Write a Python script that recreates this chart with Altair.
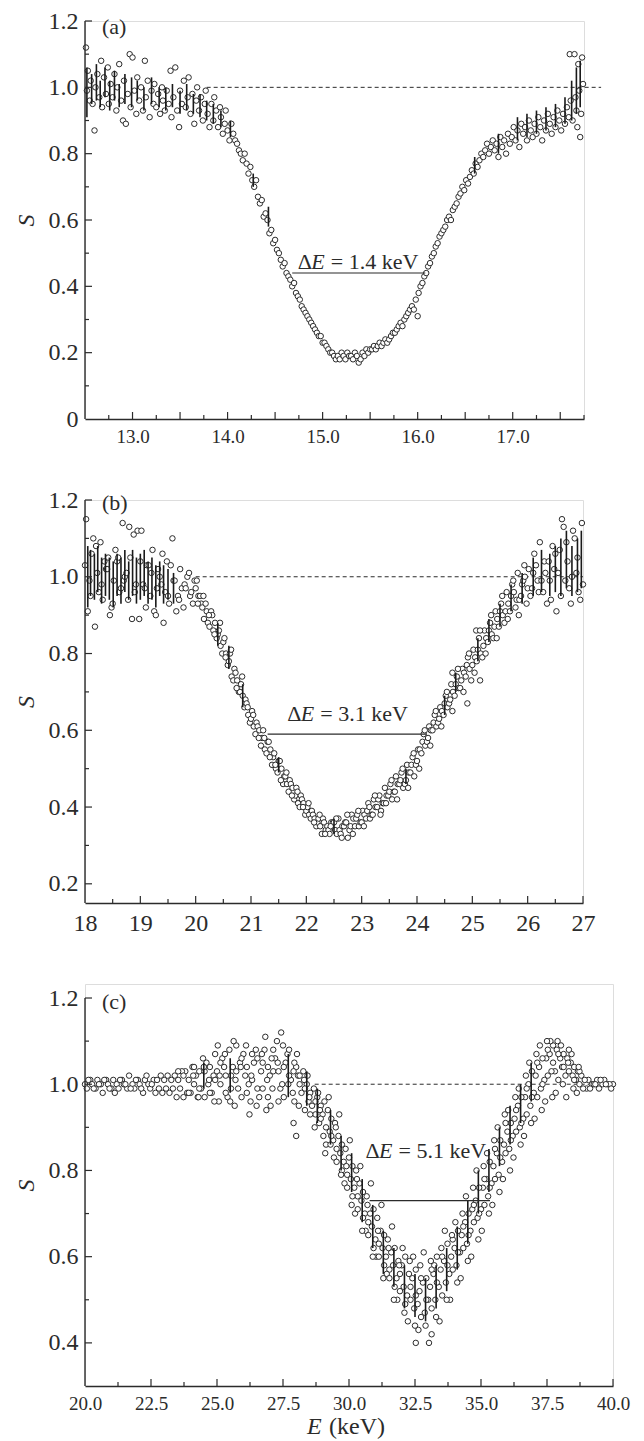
import altair as alt
import pandas as pd

FONT = "Liberation Serif, Times New Roman, Times, DejaVu Serif, serif"
INK = "#2b2b2b"
NB = "\u00a0"

# ---------------- panel (a) : (E keV, S) ----------------
a_pts = [
    (12.51, 1.12), (12.52, 0.99), (12.53, 1.05), (12.55, 0.96), (12.56, 1.02), (12.58, 0.95), (12.60, 0.87),
    (12.61, 1.00), (12.63, 1.04), (12.65, 0.97), (12.67, 1.08), (12.68, 0.94), (12.70, 1.03), (12.72, 0.98),
    (12.74, 1.06), (12.75, 0.95), (12.77, 1.01), (12.79, 0.97), (12.81, 1.04), (12.83, 0.93), (12.84, 1.00),
    (12.86, 1.07), (12.88, 0.96), (12.90, 0.90), (12.91, 1.02), (12.93, 0.89), (12.95, 0.98), (12.97, 1.10),
    (12.98, 0.94), (13.00, 1.09), (13.02, 0.99), (13.04, 0.92), (13.05, 1.03), (13.07, 0.96), (13.09, 1.00),
    (13.11, 0.93), (13.13, 1.08), (13.14, 0.97), (13.16, 1.02), (13.18, 0.91), (13.20, 0.99), (13.22, 0.95),
    (13.23, 1.01), (13.25, 0.94), (13.27, 0.98), (13.29, 0.92), (13.31, 1.00), (13.32, 0.96), (13.34, 0.93),
    (13.36, 0.99), (13.38, 0.95), (13.40, 1.05), (13.41, 0.91), (13.43, 0.97), (13.45, 1.06), (13.47, 0.93),
    (13.49, 0.88), (13.50, 0.99), (13.52, 0.95), (13.54, 1.02), (13.56, 0.94), (13.58, 0.97), (13.59, 1.03),
    (13.61, 0.92), (13.63, 0.98), (13.65, 0.89), (13.67, 0.96), (13.68, 1.00), (13.70, 0.93), (13.72, 0.97),
    (13.74, 0.90), (13.76, 0.95), (13.77, 0.99), (13.79, 0.92), (13.81, 0.88), (13.83, 0.95), (13.85, 0.90),
    (13.86, 0.97), (13.88, 0.93), (13.90, 0.88), (13.92, 0.94), (13.93, 0.91), (13.95, 0.86), (13.97, 0.89),
    (13.98, 0.93), (14.00, 0.87), (14.02, 0.84), (14.04, 0.89), (14.06, 0.86), (14.08, 0.84), (14.10, 0.83),
    (14.12, 0.81), (14.14, 0.80), (14.16, 0.78), (14.18, 0.80), (14.20, 0.77), (14.22, 0.74), (14.24, 0.76),
    (14.26, 0.72), (14.28, 0.70), (14.30, 0.72), (14.32, 0.67), (14.34, 0.65), (14.36, 0.66), (14.38, 0.61),
    (14.40, 0.62), (14.42, 0.60), (14.44, 0.56), (14.46, 0.57), (14.48, 0.53), (14.50, 0.54), (14.52, 0.51),
    (14.54, 0.50), (14.56, 0.48), (14.58, 0.46), (14.60, 0.47), (14.62, 0.44), (14.64, 0.43), (14.66, 0.42),
    (14.68, 0.40), (14.70, 0.41), (14.72, 0.38), (14.74, 0.37), (14.76, 0.36), (14.78, 0.34), (14.80, 0.33),
    (14.82, 0.32), (14.84, 0.31), (14.86, 0.30), (14.88, 0.29), (14.90, 0.28), (14.92, 0.27), (14.94, 0.26),
    (14.96, 0.25), (14.98, 0.25), (15.00, 0.23), (15.02, 0.23), (15.04, 0.22), (15.06, 0.21), (15.08, 0.20),
    (15.10, 0.20), (15.12, 0.19), (15.14, 0.18), (15.16, 0.19), (15.18, 0.18), (15.20, 0.20), (15.22, 0.19),
    (15.24, 0.18), (15.26, 0.20), (15.28, 0.19), (15.30, 0.19), (15.32, 0.18), (15.34, 0.20), (15.36, 0.19),
    (15.38, 0.17), (15.40, 0.18), (15.42, 0.20), (15.44, 0.19), (15.46, 0.21), (15.48, 0.20), (15.50, 0.21),
    (15.52, 0.21), (15.54, 0.22), (15.56, 0.21), (15.58, 0.22), (15.60, 0.23), (15.62, 0.22), (15.64, 0.23),
    (15.66, 0.24), (15.68, 0.23), (15.70, 0.24), (15.72, 0.25), (15.74, 0.26), (15.76, 0.26), (15.78, 0.27),
    (15.80, 0.28), (15.82, 0.29), (15.84, 0.28), (15.86, 0.30), (15.88, 0.31), (15.90, 0.32), (15.92, 0.33),
    (15.94, 0.34), (15.96, 0.33), (15.98, 0.36), (16.00, 0.31), (16.01, 0.38), (16.03, 0.40), (16.05, 0.41),
    (16.07, 0.43), (16.09, 0.44), (16.11, 0.46), (16.13, 0.47), (16.15, 0.49), (16.17, 0.50), (16.19, 0.52),
    (16.21, 0.53), (16.23, 0.55), (16.25, 0.56), (16.27, 0.57), (16.29, 0.58), (16.31, 0.60), (16.33, 0.61),
    (16.35, 0.60), (16.37, 0.63), (16.39, 0.64), (16.41, 0.65), (16.43, 0.67), (16.45, 0.68), (16.47, 0.70),
    (16.49, 0.69), (16.51, 0.72), (16.53, 0.71), (16.55, 0.73), (16.57, 0.75), (16.59, 0.74), (16.61, 0.77),
    (16.63, 0.76), (16.65, 0.78), (16.67, 0.80), (16.69, 0.79), (16.71, 0.81), (16.73, 0.83), (16.75, 0.80),
    (16.77, 0.82), (16.79, 0.84), (16.81, 0.81), (16.83, 0.83), (16.85, 0.79), (16.87, 0.85), (16.89, 0.82),
    (16.91, 0.84), (16.93, 0.80), (16.95, 0.86), (16.97, 0.83), (16.99, 0.85), (17.01, 0.88), (17.03, 0.84),
    (17.05, 0.87), (17.07, 0.82), (17.09, 0.89), (17.11, 0.86), (17.13, 0.88), (17.15, 0.84), (17.17, 0.90),
    (17.19, 0.87), (17.21, 0.85), (17.23, 0.89), (17.25, 0.86), (17.27, 0.91), (17.29, 0.88), (17.31, 0.84),
    (17.33, 0.90), (17.35, 0.87), (17.37, 0.92), (17.39, 0.89), (17.41, 0.86), (17.43, 0.91), (17.45, 0.88),
    (17.47, 0.93), (17.49, 0.90), (17.51, 0.87), (17.53, 0.92), (17.55, 0.89), (17.57, 0.94), (17.59, 0.91),
    (17.60, 1.10), (17.61, 0.96), (17.63, 0.90), (17.65, 1.10), (17.66, 0.97), (17.67, 0.93), (17.68, 0.88),
    (17.69, 1.07), (17.70, 0.99), (17.71, 0.85), (17.72, 0.92), (17.73, 1.09), (17.74, 1.01),
]
a_err_x = [12.52, 12.57, 12.62, 12.66, 12.71, 12.76, 12.81, 12.86, 12.92, 12.99, 13.05, 13.12, 13.20,
           13.28, 13.35, 13.42, 13.50, 13.57, 13.64, 13.71, 13.78, 13.85, 13.93, 14.03, 14.27, 14.43,
           16.60, 16.85, 17.05, 17.15, 17.25, 17.35, 17.45, 17.55, 17.62, 17.67, 17.71]
a_err_lo = [0.91, 0.95, 0.96, 0.94, 0.97, 0.93, 0.96, 0.94, 0.95, 0.94, 0.96, 0.93, 0.95, 0.94, 0.93,
            0.94, 0.92, 0.93, 0.92, 0.91, 0.90, 0.89, 0.88, 0.85, 0.70, 0.58, 0.74, 0.80, 0.84, 0.85,
            0.86, 0.87, 0.88, 0.89, 0.90, 0.92, 0.94]
a_err_hi = [1.06, 1.04, 1.07, 1.02, 1.06, 1.02, 1.05, 1.01, 1.04, 1.03, 1.02, 1.00, 1.03, 1.00, 1.00,
            1.01, 0.99, 1.01, 0.98, 0.98, 0.96, 0.95, 0.93, 0.90, 0.74, 0.64, 0.79, 0.86, 0.91, 0.92,
            0.93, 0.94, 0.95, 0.97, 1.02, 1.06, 1.08]

# ---------------- panel (b) ----------------
b_left = [
    (18.00, 1.03), (18.02, 1.15), (18.05, 0.91), (18.08, 0.99), (18.10, 0.95), (18.12, 1.06), (18.15, 1.10),
    (18.18, 0.87), (18.20, 1.08), (18.22, 1.01), (18.25, 0.96), (18.28, 1.09), (18.30, 0.98), (18.32, 0.94),
    (18.35, 1.04), (18.38, 1.02), (18.40, 1.02), (18.42, 1.05), (18.45, 0.90), (18.48, 0.92), (18.50, 0.93),
    (18.52, 0.99), (18.55, 1.07), (18.58, 1.04), (18.60, 1.05), (18.62, 0.96), (18.65, 0.97), (18.68, 1.14),
    (18.70, 0.99), (18.72, 1.00), (18.75, 1.01), (18.78, 0.94), (18.80, 1.13), (18.82, 1.05), (18.85, 0.89),
    (18.88, 1.11), (18.90, 0.96), (18.92, 0.98), (18.95, 1.12), (18.98, 0.89), (19.00, 1.04), (19.02, 1.12),
    (19.05, 0.98), (19.08, 0.97), (19.10, 0.92), (19.12, 1.03), (19.15, 1.03), (19.18, 0.95), (19.20, 1.01),
    (19.22, 1.07), (19.25, 0.91), (19.28, 0.90), (19.30, 0.97), (19.32, 1.02), (19.35, 1.00), (19.38, 0.98),
    (19.40, 1.06), (19.42, 0.88), (19.45, 0.96), (19.48, 1.04), (19.50, 0.95), (19.52, 0.93), (19.55, 1.03),
    (19.58, 1.10), (19.60, 0.99), (19.62, 0.99), (19.65, 0.91), (19.68, 0.95), (19.70, 0.94), (19.72, 1.02),
    (19.75, 0.97), (19.78, 0.92), (19.80, 0.98), (19.82, 0.97), (19.85, 1.00), (19.88, 1.01), (19.90, 0.95),
    (19.92, 0.96), (19.95, 0.93), (19.98, 0.99),
]
b_dip = [
    (20.00, 0.97), (20.02, 0.99), (20.05, 0.95), (20.08, 0.95), (20.10, 0.93), (20.12, 0.92), (20.15, 0.89),
    (20.18, 0.93), (20.20, 0.91), (20.22, 0.88), (20.25, 0.87), (20.28, 0.91), (20.30, 0.90), (20.32, 0.86),
    (20.35, 0.88), (20.38, 0.84), (20.40, 0.85), (20.42, 0.86), (20.45, 0.82), (20.48, 0.80), (20.50, 0.83),
    (20.52, 0.84), (20.55, 0.80), (20.58, 0.77), (20.60, 0.78), (20.62, 0.80), (20.65, 0.74), (20.68, 0.73),
    (20.70, 0.76), (20.72, 0.75), (20.75, 0.73), (20.78, 0.70), (20.80, 0.70), (20.82, 0.72), (20.85, 0.69),
    (20.88, 0.66), (20.90, 0.68), (20.92, 0.67), (20.95, 0.64), (20.98, 0.62), (21.00, 0.63), (21.02, 0.65),
    (21.05, 0.61), (21.08, 0.59), (21.10, 0.62), (21.12, 0.61), (21.15, 0.60), (21.18, 0.56), (21.20, 0.58),
    (21.22, 0.60), (21.25, 0.55), (21.28, 0.54), (21.30, 0.57), (21.32, 0.57), (21.35, 0.55), (21.38, 0.51),
    (21.40, 0.53), (21.42, 0.54), (21.45, 0.50), (21.48, 0.49), (21.50, 0.52), (21.52, 0.52), (21.55, 0.50),
    (21.58, 0.46), (21.60, 0.48), (21.62, 0.48), (21.65, 0.46), (21.68, 0.44), (21.70, 0.47), (21.72, 0.46),
    (21.75, 0.45), (21.78, 0.42), (21.80, 0.43), (21.82, 0.45), (21.85, 0.41), (21.88, 0.40), (21.90, 0.43),
    (21.92, 0.42), (21.95, 0.41), (21.98, 0.38), (22.00, 0.39), (22.02, 0.40), (22.05, 0.38), (22.08, 0.37),
    (22.10, 0.39), (22.12, 0.38), (22.15, 0.37), (22.18, 0.35), (22.20, 0.36), (22.22, 0.37), (22.25, 0.35),
    (22.28, 0.33), (22.30, 0.37), (22.32, 0.36), (22.35, 0.34), (22.38, 0.35), (22.40, 0.34), (22.42, 0.33),
    (22.45, 0.36), (22.48, 0.36), (22.50, 0.36), (22.52, 0.34), (22.55, 0.33), (22.58, 0.37), (22.60, 0.34),
    (22.62, 0.33), (22.65, 0.35), (22.68, 0.35), (22.70, 0.36), (22.72, 0.36), (22.75, 0.32), (22.78, 0.34),
    (22.80, 0.35), (22.82, 0.38), (22.85, 0.37), (22.88, 0.35), (22.90, 0.37), (22.92, 0.38), (22.95, 0.35),
    (22.98, 0.36), (23.00, 0.36), (23.02, 0.39), (23.05, 0.38), (23.08, 0.37), (23.10, 0.39), (23.12, 0.41),
    (23.15, 0.37), (23.18, 0.38), (23.20, 0.38), (23.22, 0.42), (23.25, 0.40), (23.28, 0.40), (23.30, 0.42),
    (23.32, 0.43), (23.35, 0.39), (23.38, 0.41), (23.40, 0.41), (23.42, 0.45), (23.45, 0.43), (23.48, 0.43),
    (23.50, 0.44), (23.52, 0.46), (23.55, 0.42), (23.58, 0.44), (23.60, 0.44), (23.62, 0.48), (23.65, 0.46),
    (23.68, 0.46), (23.70, 0.47), (23.72, 0.49), (23.75, 0.45), (23.78, 0.46), (23.80, 0.47), (23.82, 0.51),
    (23.85, 0.49), (23.88, 0.49), (23.90, 0.51), (23.92, 0.53), (23.95, 0.48), (23.98, 0.51), (24.00, 0.52),
    (24.02, 0.55), (24.05, 0.55), (24.08, 0.54), (24.10, 0.57), (24.12, 0.59), (24.15, 0.56), (24.18, 0.57),
    (24.20, 0.58), (24.22, 0.61), (24.25, 0.60), (24.28, 0.60), (24.30, 0.62), (24.32, 0.64), (24.35, 0.61),
    (24.38, 0.62), (24.40, 0.63), (24.42, 0.66), (24.45, 0.65), (24.48, 0.64), (24.50, 0.67), (24.52, 0.69),
    (24.55, 0.66), (24.58, 0.67), (24.60, 0.68), (24.62, 0.72), (24.64, 0.75), (24.65, 0.70), (24.68, 0.69),
    (24.70, 0.72), (24.72, 0.74), (24.75, 0.71), (24.78, 0.71), (24.80, 0.73), (24.82, 0.76), (24.85, 0.75),
    (24.88, 0.74), (24.90, 0.77), (24.91, 0.67), (24.92, 0.79), (24.95, 0.76), (24.98, 0.73), (25.00, 0.77),
    (25.02, 0.81), (25.05, 0.79), (25.07, 0.86), (25.08, 0.78), (25.10, 0.81), (25.12, 0.84), (25.14, 0.73),
    (25.15, 0.80), (25.18, 0.79), (25.20, 0.82), (25.22, 0.86), (25.25, 0.84), (25.28, 0.83), (25.30, 0.86),
    (25.32, 0.88), (25.35, 0.85), (25.38, 0.84), (25.40, 0.87), (25.42, 0.91), (25.45, 0.89), (25.48, 0.87),
    (25.50, 0.91), (25.52, 0.93), (25.55, 0.90), (25.58, 0.88), (25.60, 0.91), (25.62, 0.96), (25.65, 0.93),
    (25.68, 0.91), (25.70, 0.95), (25.72, 0.98), (25.75, 0.96), (25.78, 0.92), (25.80, 0.94), (25.82, 1.01),
    (25.85, 0.94), (25.88, 0.95), (25.90, 0.98), (25.92, 0.99), (25.95, 1.00), (25.98, 0.93),
]
b_extra = [
    (20.04, 0.93), (20.14, 0.95), (20.24, 0.90), (20.34, 0.85), (20.44, 0.88), (20.54, 0.79), (20.64, 0.81),
    (20.74, 0.71), (20.84, 0.74), (20.94, 0.66), (21.04, 0.64), (21.14, 0.58), (21.24, 0.58), (21.34, 0.53),
    (21.44, 0.51), (21.54, 0.47), (21.64, 0.49), (21.74, 0.43), (21.84, 0.44), (21.94, 0.40), (22.04, 0.41),
    (22.14, 0.36), (22.24, 0.38), (22.34, 0.33), (22.44, 0.35), (22.54, 0.37), (22.64, 0.32), (22.74, 0.38),
    (22.84, 0.33), (22.94, 0.39), (23.04, 0.35), (23.14, 0.40), (23.24, 0.43), (23.34, 0.38), (23.44, 0.41),
    (23.54, 0.47), (23.64, 0.42), (23.74, 0.50), (23.84, 0.45), (23.94, 0.54), (24.04, 0.50), (24.14, 0.60),
    (24.24, 0.56), (24.34, 0.65), (24.44, 0.61), (24.54, 0.70), (24.64, 0.65), (24.74, 0.76), (24.84, 0.70),
    (24.94, 0.80), (25.04, 0.75), (25.14, 0.86), (25.24, 0.80), (25.34, 0.90), (25.44, 0.84), (25.54, 0.95),
    (25.64, 0.89), (25.74, 0.99), (25.84, 0.90), (25.94, 1.03),
]
b_right = [
    (26.00, 0.97), (26.02, 1.02), (26.05, 0.95), (26.08, 0.97), (26.10, 1.01), (26.12, 1.06), (26.15, 1.03),
    (26.18, 0.99), (26.20, 0.96), (26.22, 1.09), (26.25, 0.99), (26.28, 0.96), (26.30, 1.04), (26.32, 1.01),
    (26.35, 0.93), (26.38, 1.04), (26.40, 0.99), (26.42, 0.94), (26.45, 1.08), (26.48, 1.02), (26.50, 1.06),
    (26.52, 0.91), (26.55, 1.01), (26.58, 1.07), (26.60, 0.95), (26.62, 1.15), (26.65, 1.13), (26.68, 0.99),
    (26.70, 1.09), (26.72, 1.04), (26.75, 0.97), (26.78, 0.93), (26.80, 1.00), (26.82, 1.12), (26.85, 1.10),
    (26.88, 1.01), (26.90, 1.05), (26.92, 0.96), (26.95, 0.94), (26.98, 1.14), (27.00, 0.98),
]
b_err_x = [18.05, 18.10, 18.17, 18.23, 18.30, 18.37, 18.44, 18.51, 18.58, 18.65, 18.72, 18.79, 18.86,
           18.93, 19.00, 19.07, 19.14, 19.21, 19.28, 19.35, 19.42, 19.50, 19.60, 20.40, 20.60, 20.85,
           21.50, 22.50, 23.80, 24.50, 24.70, 25.10, 25.30, 25.50, 25.70, 25.90, 26.10, 26.25, 26.40,
           26.50, 26.60, 26.70, 26.80, 26.90, 26.97]
b_err_lo = [0.92, 0.95, 0.94, 0.96, 0.93, 0.95, 0.94, 0.92, 0.95, 0.93, 0.96, 0.94, 0.95, 0.93, 0.94,
            0.95, 0.93, 0.94, 0.92, 0.95, 0.93, 0.94, 0.93, 0.82, 0.76, 0.66, 0.49, 0.33, 0.46, 0.64,
            0.70, 0.78, 0.83, 0.87, 0.91, 0.93, 0.95, 0.96, 0.95, 0.96, 0.95, 0.97, 0.95, 0.96, 0.97]
b_err_hi = [1.08, 1.07, 1.06, 1.08, 1.05, 1.06, 1.05, 1.04, 1.06, 1.05, 1.07, 1.04, 1.07, 1.05, 1.06,
            1.07, 1.04, 1.05, 1.03, 1.04, 1.03, 1.02, 1.01, 0.88, 0.82, 0.72, 0.53, 0.37, 0.50, 0.69,
            0.75, 0.84, 0.89, 0.93, 0.98, 1.01, 1.05, 1.07, 1.06, 1.08, 1.10, 1.12, 1.08, 1.10, 1.12]

# ---------------- panel (c) ----------------
c_set1 = [
    (20.0, 1.00), (20.2, 1.01), (20.4, 0.99), (20.6, 1.00), (20.8, 1.01), (21.0, 0.99), (21.2, 1.00),
    (21.4, 1.01), (21.6, 0.99), (21.8, 1.00), (22.0, 1.01), (22.2, 0.98), (22.4, 1.00), (22.6, 1.01),
    (22.8, 0.99), (23.0, 1.01), (23.2, 0.98), (23.4, 1.02), (23.6, 0.99), (23.8, 1.03), (24.0, 0.98),
    (24.2, 1.02), (24.4, 0.99), (24.6, 1.05), (24.8, 0.98), (25.0, 1.03), (25.2, 1.06), (25.4, 0.97),
    (25.6, 1.04), (25.8, 0.99), (26.0, 1.07), (26.2, 1.00), (26.4, 1.05), (26.6, 0.97), (26.8, 1.08),
    (27.0, 1.02), (27.2, 1.06), (27.4, 0.99), (27.6, 1.05), (27.8, 1.01), (28.0, 1.04), (28.2, 0.98),
    (28.4, 1.00), (28.6, 0.95), (28.8, 0.97), (29.0, 0.93), (29.2, 0.94), (29.4, 0.87), (29.6, 0.88),
    (29.8, 0.82), (30.0, 0.83), (30.2, 0.76), (30.4, 0.77), (30.6, 0.70), (30.8, 0.70), (31.0, 0.64),
    (31.2, 0.66), (31.4, 0.60), (31.6, 0.61), (31.8, 0.55), (32.0, 0.58), (32.2, 0.51), (32.4, 0.55),
    (32.6, 0.49), (32.8, 0.54), (33.0, 0.50), (33.2, 0.56), (33.4, 0.53), (33.6, 0.59), (33.8, 0.56),
    (34.0, 0.62), (34.2, 0.61), (34.4, 0.68), (34.6, 0.66), (34.8, 0.73), (35.0, 0.71), (35.2, 0.78),
    (35.4, 0.77), (35.6, 0.84), (35.8, 0.82), (36.0, 0.89), (36.2, 0.88), (36.4, 0.95), (36.6, 0.92),
    (36.8, 1.00), (37.0, 0.98), (37.2, 1.04), (37.4, 1.01), (37.6, 1.07), (37.8, 1.03), (38.0, 1.06),
    (38.2, 1.02), (38.4, 1.05), (38.6, 1.01), (38.8, 1.02), (39.0, 0.99), (39.2, 1.00), (39.4, 1.01),
    (39.6, 1.00), (39.8, 1.00), (40.0, 1.00),
]
c_set2 = [
    (20.07, 0.99), (20.27, 1.00), (20.47, 1.01), (20.67, 0.98), (20.87, 1.00), (21.07, 1.01), (21.27, 0.99),
    (21.47, 1.00), (21.67, 1.02), (21.87, 0.99), (22.07, 1.00), (22.27, 1.01), (22.47, 0.99), (22.67, 0.98),
    (22.87, 1.02), (23.07, 0.99), (23.27, 1.01), (23.47, 0.97), (23.67, 1.03), (23.87, 0.98), (24.07, 1.04),
    (24.27, 0.97), (24.47, 1.06), (24.67, 1.00), (24.87, 1.02), (25.07, 0.96), (25.27, 1.04), (25.47, 1.08),
    (25.67, 0.95), (25.87, 1.05), (26.07, 1.02), (26.27, 0.96), (26.47, 1.08), (26.67, 1.03), (26.87, 0.94),
    (27.07, 1.06), (27.27, 1.10), (27.47, 1.00), (27.67, 1.07), (27.87, 0.98), (28.07, 1.02), (28.27, 1.03),
    (28.47, 0.96), (28.67, 0.99), (28.87, 0.91), (29.07, 0.96), (29.27, 0.89), (29.47, 0.91), (29.67, 0.84),
    (29.87, 0.85), (30.07, 0.78), (30.27, 0.80), (30.47, 0.73), (30.67, 0.74), (30.87, 0.67), (31.07, 0.69),
    (31.27, 0.62), (31.47, 0.64), (31.67, 0.58), (31.87, 0.59), (32.07, 0.53), (32.27, 0.56), (32.47, 0.48),
    (32.67, 0.52), (32.87, 0.47), (33.07, 0.53), (33.27, 0.50), (33.47, 0.57), (33.67, 0.54), (33.87, 0.60),
    (34.07, 0.58), (34.27, 0.65), (34.47, 0.63), (34.67, 0.71), (34.87, 0.69), (35.07, 0.76), (35.27, 0.74),
    (35.47, 0.81), (35.67, 0.79), (35.87, 0.86), (36.07, 0.85), (36.27, 0.92), (36.47, 0.90), (36.67, 0.97),
    (36.87, 0.95), (37.07, 1.02), (37.27, 0.99), (37.47, 1.06), (37.67, 1.03), (37.87, 1.08), (38.07, 1.04),
    (38.27, 1.06), (38.47, 1.02), (38.67, 1.03), (38.87, 0.99), (39.07, 1.01), (39.27, 1.00), (39.47, 0.99),
    (39.67, 1.01), (39.87, 1.00),
]
c_set3 = [
    (20.13, 1.01), (20.33, 0.99), (20.53, 1.00), (20.73, 1.01), (20.93, 0.99), (21.13, 0.98), (21.33, 1.01),
    (21.53, 1.00), (21.73, 0.99), (21.93, 1.01), (22.13, 0.99), (22.33, 1.02), (22.53, 1.00), (22.73, 1.01),
    (22.93, 0.98), (23.13, 1.02), (23.33, 0.99), (23.53, 1.03), (23.73, 0.97), (23.93, 1.01), (24.13, 1.00),
    (24.33, 1.03), (24.53, 0.97), (24.73, 1.04), (24.93, 1.07), (25.13, 1.00), (25.33, 0.98), (25.53, 1.02),
    (25.73, 1.09), (25.93, 0.97), (26.13, 1.04), (26.33, 1.07), (26.53, 0.99), (26.73, 1.05), (26.93, 0.97),
    (27.13, 1.03), (27.33, 0.96), (27.53, 1.04), (27.73, 1.08), (27.93, 0.96), (28.13, 1.00), (28.33, 0.94),
    (28.53, 0.98), (28.73, 0.93), (28.93, 0.95), (29.13, 0.90), (29.33, 0.92), (29.53, 0.85), (29.73, 0.86),
    (29.93, 0.79), (30.13, 0.81), (30.33, 0.74), (30.53, 0.75), (30.73, 0.68), (30.93, 0.71), (31.13, 0.63),
    (31.33, 0.65), (31.53, 0.57), (31.73, 0.62), (31.93, 0.52), (32.13, 0.60), (32.33, 0.50), (32.53, 0.57),
    (32.73, 0.46), (32.93, 0.55), (33.13, 0.48), (33.33, 0.60), (33.53, 0.51), (33.73, 0.63), (33.93, 0.57),
    (34.13, 0.66), (34.33, 0.62), (34.53, 0.70), (34.73, 0.68), (34.93, 0.76), (35.13, 0.72), (35.33, 0.82),
    (35.53, 0.78), (35.73, 0.87), (35.93, 0.84), (36.13, 0.91), (36.33, 0.89), (36.53, 0.97), (36.73, 0.93),
    (36.93, 1.03), (37.13, 0.97), (37.33, 1.06), (37.53, 1.02), (37.73, 1.09), (37.93, 1.01), (38.13, 1.07),
    (38.33, 1.03), (38.53, 1.04), (38.73, 1.00), (38.93, 1.01), (39.13, 0.99), (39.33, 1.00), (39.53, 1.01),
    (39.73, 1.00), (39.93, 0.99),
]
c_set4 = [
    (25.03, 1.09), (25.63, 1.10), (26.23, 0.93), (26.83, 1.11), (27.03, 0.95), (27.43, 1.12), (27.90, 0.91),
    (28.00, 0.88), (28.03, 1.07), (28.43, 1.02), (28.83, 0.98), (29.03, 0.88), (29.23, 0.97), (29.43, 0.83),
    (29.63, 0.93), (29.83, 0.77), (30.03, 0.87), (30.23, 0.70), (30.43, 0.81), (30.63, 0.66), (30.83, 0.77),
    (31.03, 0.60), (31.23, 0.72), (31.43, 0.56), (31.63, 0.67), (31.83, 0.50), (32.03, 0.62), (32.23, 0.45),
    (32.43, 0.60), (32.53, 0.40), (32.63, 0.43), (32.83, 0.61), (33.03, 0.40), (33.13, 0.42), (33.23, 0.58),
    (33.43, 0.45), (33.63, 0.66), (33.83, 0.50), (34.03, 0.68), (34.23, 0.55), (34.43, 0.74), (34.63, 0.60),
    (34.83, 0.80), (35.03, 0.66), (35.23, 0.84), (35.43, 0.72), (35.63, 0.90), (35.83, 0.78), (36.03, 0.94),
    (36.23, 0.83), (36.43, 0.99), (36.63, 0.88), (36.83, 1.05), (37.03, 0.92), (37.23, 1.09), (37.43, 0.96),
    (37.63, 1.10), (37.83, 0.98), (38.03, 1.09), (38.23, 0.97), (38.43, 1.07), (38.63, 0.98),
]
c_set5 = [
    (23.53, 1.01), (23.73, 1.02), (23.93, 0.98), (24.13, 1.04), (24.33, 0.99), (24.53, 1.03), (24.73, 0.98),
    (24.93, 1.01), (25.13, 1.05), (25.33, 1.02), (25.53, 0.99), (25.73, 1.03), (25.93, 1.06), (26.13, 0.98),
    (26.33, 1.01), (26.53, 1.06), (26.73, 0.99), (26.93, 1.04), (27.13, 1.08), (27.33, 1.03), (27.53, 0.97),
    (27.73, 1.02), (27.93, 1.05), (28.13, 1.02), (28.33, 0.99), (28.53, 0.93), (28.73, 0.96), (28.93, 0.92),
    (29.13, 0.86), (29.33, 0.88), (29.53, 0.82), (29.73, 0.80), (29.93, 0.76), (30.13, 0.74), (30.33, 0.71),
    (30.53, 0.69), (30.73, 0.65), (30.93, 0.62), (31.13, 0.60), (31.33, 0.58), (31.53, 0.55), (31.73, 0.53),
    (31.93, 0.56), (32.13, 0.49), (32.33, 0.53), (32.53, 0.51), (32.73, 0.55), (32.93, 0.50), (33.13, 0.57),
    (33.33, 0.54), (33.53, 0.60), (33.73, 0.58), (33.93, 0.64), (34.13, 0.61), (34.33, 0.67), (34.53, 0.65),
    (34.73, 0.72), (34.93, 0.70), (35.13, 0.78), (35.33, 0.76), (35.53, 0.85), (35.73, 0.83), (35.93, 0.91),
    (36.13, 0.87), (36.33, 0.94), (36.53, 0.91), (36.73, 0.99), (36.93, 0.97), (37.13, 1.05), (37.33, 1.00),
    (37.53, 1.08), (37.73, 1.05), (37.93, 1.07), (38.13, 1.04), (38.33, 1.08), (38.53, 1.01), (38.73, 1.03),
]
c_set6 = [
    (24.10, 1.02), (24.30, 0.97), (24.50, 1.04), (24.70, 1.01), (24.90, 0.96), (25.10, 1.02), (25.30, 1.07),
    (25.50, 0.96), (25.70, 1.01), (25.90, 1.04), (26.10, 1.09), (26.30, 1.02), (26.50, 0.95), (26.70, 1.07),
    (26.90, 1.01), (27.10, 0.99), (27.30, 1.05), (27.50, 1.09), (27.70, 1.00), (27.90, 1.03), (28.10, 0.95),
    (28.30, 1.01), (28.50, 0.97), (28.70, 0.90), (28.90, 0.94), (29.10, 0.84), (29.30, 0.86), (29.50, 0.90),
    (29.70, 0.79), (29.90, 0.81), (30.10, 0.72), (30.30, 0.78), (30.50, 0.66), (30.70, 0.72), (30.90, 0.60),
    (31.10, 0.66), (31.30, 0.55), (31.50, 0.62), (31.70, 0.50), (31.90, 0.58), (32.10, 0.47), (32.30, 0.59),
    (32.50, 0.44), (32.70, 0.58), (32.90, 0.44), (33.10, 0.59), (33.30, 0.46), (33.50, 0.62), (33.70, 0.50),
    (33.90, 0.65), (34.10, 0.54), (34.30, 0.70), (34.50, 0.59), (34.70, 0.76), (34.90, 0.64), (35.10, 0.81),
    (35.30, 0.70), (35.50, 0.87), (35.70, 0.75), (35.90, 0.93), (36.10, 0.80), (36.30, 0.97), (36.50, 0.86),
    (36.70, 1.02), (36.90, 0.91), (37.10, 1.07), (37.30, 0.94), (37.50, 1.10), (37.70, 0.97), (37.90, 1.10),
    (38.10, 1.00), (38.30, 1.05), (38.50, 0.99), (38.70, 1.04),
]
c_err_x = [24.5, 25.5, 27.7, 28.4, 28.8, 29.3, 29.7, 30.1, 30.5, 30.9, 31.3, 31.7, 32.1, 32.5, 32.9,
           33.3, 33.7, 34.1, 34.5, 34.9, 35.3, 35.7, 36.1, 36.5, 36.9]
c_err_lo = [0.99, 0.98, 0.97, 0.95, 0.91, 0.86, 0.80, 0.75, 0.68, 0.62, 0.56, 0.53, 0.48, 0.46, 0.45,
            0.48, 0.52, 0.57, 0.63, 0.70, 0.75, 0.81, 0.86, 0.91, 0.96]
c_err_hi = [1.05, 1.06, 1.07, 1.03, 0.99, 0.94, 0.88, 0.84, 0.78, 0.72, 0.66, 0.62, 0.58, 0.56, 0.55,
            0.58, 0.62, 0.67, 0.73, 0.80, 0.85, 0.90, 0.95, 1.00, 1.05]


def df_pts(*lists):
    rows = [p for lst in lists for p in lst]
    return pd.DataFrame({"x": [r[0] for r in rows], "y": [r[1] for r in rows]})


def panel(pts, ex, elo, ehi, xdom, ydom, w, h, xlab, xfmt, xls, xmaj, xmin, ylab, ymaj, ymin,
          dash, dline, dtext_xy, dtext, tag, tag_dy, xtitle=False):
    xs = alt.Scale(domain=xdom, nice=False, zero=False)
    ys = alt.Scale(domain=ydom, nice=False, zero=False)
    xaxis = alt.Axis(values=xlab, format=xfmt, ticks=False, tickSize=0, grid=False,
                     domainColor=INK, domainWidth=1.4, labelFont=FONT, labelFontSize=xls,
                     labelColor=INK, labelPadding=8, labelOverlap=False, labelFlush=False, title=None)
    yaxis = alt.Axis(values=ylab, labelExpr="datum.value == 0 ? '0' : format(datum.value, '.1f')",
                     ticks=False, tickSize=0, grid=False, domain=False, labelFont=FONT,
                     labelFontSize=24, labelColor=INK, labelPadding=7, labelFlush=False,
                     labelOverlap=False, title="S", titleFont=FONT, titleFontSize=24,
                     titleFontStyle="italic", titleFontWeight="normal", titleColor=INK, titlePadding=10)
    X = alt.X("x:Q", scale=xs, axis=xaxis)
    Y = alt.Y("y:Q", scale=ys, axis=yaxis)

    layers = []
    layers.append(alt.Chart(pd.DataFrame({"x": [dash[0]], "x2": [dash[1]], "y": [1.0]}))
                  .mark_rule(color=INK, strokeWidth=1, strokeDash=[4, 3])
                  .encode(x=X, x2="x2:Q", y=Y))
    layers.append(alt.Chart(pts).mark_point(shape="circle", filled=True, fill="white", fillOpacity=1,
                                            stroke=INK, strokeWidth=1.0, size=30, opacity=1)
                  .encode(x=X, y=Y))
    layers.append(alt.Chart(pd.DataFrame({"x": ex, "y": elo, "y2": ehi}))
                  .mark_rule(color="#1a1a1a", strokeWidth=1.6)
                  .encode(x=X, y=Y, y2="y2:Q"))
    layers.append(alt.Chart(pd.DataFrame({"x": [dline[0]], "x2": [dline[1]], "y": [dline[2]]}))
                  .mark_rule(color=INK, strokeWidth=1.1)
                  .encode(x=X, x2="x2:Q", y=Y))
    tdf = pd.DataFrame({"x": [dtext_xy[0]], "y": [dtext_xy[1]]})
    parts = [("\u0394", "normal", -60), ("E", "italic", -46.5), (dtext, "normal", -27)]
    for txt, style, dx in parts:
        layers.append(alt.Chart(tdf).mark_text(text=txt, font=FONT, fontSize=22, fontStyle=style,
                                               align="left", baseline="alphabetic", dx=dx, color=INK)
                      .encode(x=X, y=Y))
    layers.append(alt.Chart(pd.DataFrame({"y": [1.2]}))
                  .mark_text(text=tag, font=FONT, fontSize=22, align="left", baseline="middle",
                             dy=tag_dy, color=INK)
                  .encode(x=alt.value(17), y=Y))
    layers.append(alt.Chart(pd.DataFrame({"x": xmaj})).mark_rule(color=INK, strokeWidth=1.2)
                  .encode(x=X, y=alt.value(h), y2=alt.value(h - 7)))
    layers.append(alt.Chart(pd.DataFrame({"x": xmin})).mark_rule(color=INK, strokeWidth=1.2)
                  .encode(x=X, y=alt.value(h), y2=alt.value(h - 4)))
    layers.append(alt.Chart(pd.DataFrame({"y": ymaj})).mark_rule(color=INK, strokeWidth=1.2)
                  .encode(y=Y, x=alt.value(0), x2=alt.value(7)))
    layers.append(alt.Chart(pd.DataFrame({"y": ymin})).mark_rule(color=INK, strokeWidth=1.2)
                  .encode(y=Y, x=alt.value(0), x2=alt.value(4)))
    layers.append(alt.Chart(pd.DataFrame({"y": [ydom[0]], "y2": [1.2]})).mark_rule(color=INK, strokeWidth=1.4)
                  .encode(y=Y, y2="y2:Q", x=alt.value(0)))
    if xtitle:
        tt = pd.DataFrame({"t": [0]})
        layers.append(alt.Chart(tt).mark_text(text="E", font=FONT, fontSize=24, fontStyle="italic",
                                              align="left", baseline="alphabetic", dx=-42, color=INK)
                      .encode(x=alt.value(w / 2), y=alt.value(h + 48)))
        layers.append(alt.Chart(tt).mark_text(text="(keV)", font=FONT, fontSize=24,
                                              align="left", baseline="alphabetic", dx=-20, color=INK)
                      .encode(x=alt.value(w / 2), y=alt.value(h + 48)))
    return alt.layer(*layers).properties(width=w, height=h)


pa = panel(df_pts(a_pts), a_err_x, a_err_lo, a_err_hi,
           [12.5, 17.75], [0, 1.2], 499, 398,
           [13, 14, 15, 16, 17], ".1f", 19,
           [13.0, 13.5, 14.0, 14.5, 15.0, 15.5, 16.0, 16.5, 17.0, 17.5],
           [12.75, 13.25, 13.75, 14.25, 14.75, 15.25, 15.75, 16.25, 16.75, 17.25, 17.75],
           [0, 0.2, 0.4, 0.6, 0.8, 1.0, 1.2], [0.2, 0.4, 0.6, 0.8, 1.0, 1.2],
           [0.1, 0.3, 0.5, 0.7, 0.9, 1.1],
           (13.78, 17.93), (14.68, 16.08, 0.44), (15.37, 0.452), "=" + NB + "1.4 keV", "(a)", 6)

pb = panel(df_pts(b_left, b_dip, b_extra, b_right), b_err_x, b_err_lo, b_err_hi,
           [18, 27], [0.15, 1.2], 498, 403,
           [18, 19, 20, 21, 22, 23, 24, 25, 26, 27], "d", 24,
           [19, 20, 21, 22, 23, 24, 25, 26, 27],
           [18.5, 19.5, 20.5, 21.5, 22.5, 23.5, 24.5, 25.5, 26.5],
           [0.2, 0.4, 0.6, 0.8, 1.0, 1.2], [0.2, 0.4, 0.6, 0.8, 1.0, 1.2],
           [0.3, 0.5, 0.7, 0.9, 1.1],
           (20.0, 27.0), (21.30, 24.17, 0.59), (22.74, 0.624), "=" + NB + "3.1 keV", "(b)", 3)

pc = panel(df_pts(c_set1, c_set2, c_set3, c_set4, c_set5, c_set6), c_err_x, c_err_lo, c_err_hi,
           [20, 40], [0.3, 1.2325], 528, 402,
           [20, 22.5, 25, 27.5, 30, 32.5, 35, 37.5, 40], ".1f", 19,
           [22.5, 25, 27.5, 30, 32.5, 35, 37.5, 40],
           [21.25, 23.75, 26.25, 28.75, 31.25, 33.75, 36.25, 38.75],
           [0.4, 0.6, 0.8, 1.0, 1.2], [0.4, 0.6, 0.8, 1.0, 1.2],
           [0.5, 0.7, 0.9, 1.1],
           (28.7, 40.0), (30.78, 35.34, 0.73), (32.9, 0.829), "=" + NB + "5.1 keV", "(c)", 4, xtitle=True)

chart = (alt.vconcat(pa, pb, pc, spacing=81, bounds="flush")
         .properties(padding={"left": 5, "top": 0, "right": 5, "bottom": 5})
         .configure_view(stroke=None)
         .configure(font=FONT))

chart.save("out.html", embed_options={"renderer": "svg", "actions": False})
